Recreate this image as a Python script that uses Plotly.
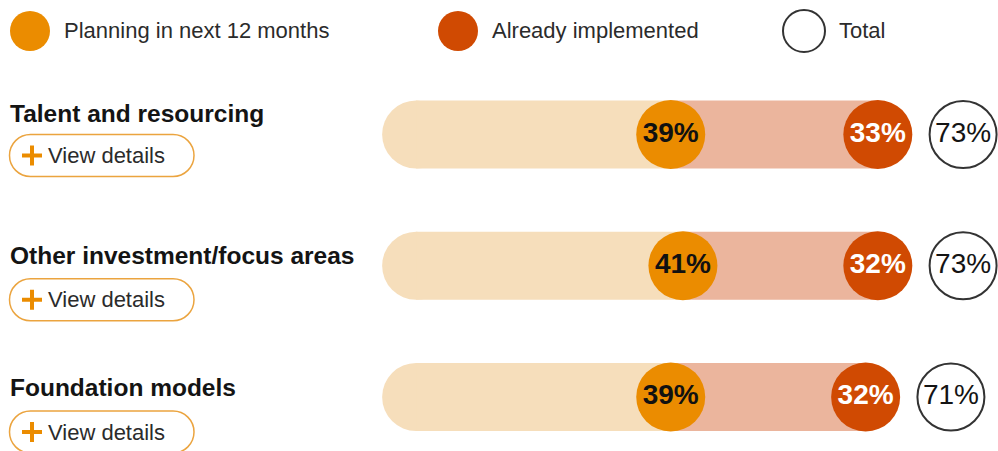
import plotly.graph_objects as go

# ---- data ----
categories = ["Talent and resourcing", "Other investment/focus areas", "Foundation models"]
planning = [39, 41, 39]
implemented = [33, 32, 32]
total = [73, 73, 71]
legend_labels = ["Planning in next 12 months", "Already implemented", "Total"]
button_label = "View details"

# ---- styles / layout constants ----
W, H = 998, 451
FONT = "Liberation Sans, Arial, Helvetica, sans-serif"
C_PLAN = "#EB8C00"
C_IMPL = "#D04A02"
C_LIGHT = "#F6DEBB"
C_MID = "#EBB59D"
C_TXT = "#141414"
C_BTN = "#EBA43F"
DIAM = 69
BAR_H = 68
BAR_CAP_X = -2.8      # axis units: centre of the rounded left end of the track
TOTAL_GAP = 14        # axis units between bar end and the total circle
X_RANGE = [-71.12, 92.73]
Y_RANGE = [2.4114, -1.0248]
LABEL_SHIFT = [21.5, 10, 10]     # px above row centre
BUTTON_SHIFT = [21, 34, 35]      # px below row centre

rows = list(range(len(categories)))
fig = go.Figure()

shapes = []
annotations = []

# tracks
for i in rows:
    shapes.append(dict(type="circle", xref="x", yref="y", xsizemode="pixel", ysizemode="pixel",
                       xanchor=BAR_CAP_X, yanchor=i, x0=-BAR_H / 2, x1=BAR_H / 2,
                       y0=-BAR_H / 2, y1=BAR_H / 2, fillcolor=C_LIGHT, line_width=0, layer="below"))
    shapes.append(dict(type="rect", xref="x", yref="y", ysizemode="pixel", yanchor=i,
                       x0=BAR_CAP_X, x1=planning[i], y0=-BAR_H / 2, y1=BAR_H / 2,
                       fillcolor=C_LIGHT, line_width=0, layer="below"))
    shapes.append(dict(type="rect", xref="x", yref="y", ysizemode="pixel", yanchor=i,
                       x0=planning[i], x1=total[i], y0=-BAR_H / 2, y1=BAR_H / 2,
                       fillcolor=C_MID, line_width=0, layer="below"))

# circles
fig.add_trace(go.Scatter(
    x=planning, y=rows, mode="markers+text",
    marker=dict(size=DIAM, color=C_PLAN, line_width=0),
    text=[f"{v}%" for v in planning], textposition="middle center",
    textfont=dict(family=FONT, size=28, color="#111111", weight=700),
    hoverinfo="skip", showlegend=False, cliponaxis=False))
fig.add_trace(go.Scatter(
    x=total, y=rows, mode="markers+text",
    marker=dict(size=DIAM, color=C_IMPL, line_width=0),
    text=[f"{v}%" for v in implemented], textposition="middle center",
    textfont=dict(family=FONT, size=28, color="#ffffff", weight=700),
    hoverinfo="skip", showlegend=False, cliponaxis=False))
fig.add_trace(go.Scatter(
    x=[t + TOTAL_GAP for t in total], y=rows, mode="markers+text",
    marker=dict(size=DIAM - 2, color="#ffffff", line=dict(width=2, color="#333333")),
    text=[f"{v}%" for v in total], textposition="middle center",
    textfont=dict(family=FONT, size=28, color=C_TXT),
    hoverinfo="skip", showlegend=False, cliponaxis=False))


def pill(L, R, c, r):
    k = 0.5523 * r
    t, b = c + r, c - r
    return (f"M{L + r},{t} L{R - r},{t} C{R - r + k},{t} {R},{c + k} {R},{c} "
            f"C{R},{c - k} {R - r + k},{b} {R - r},{b} L{L + r},{b} "
            f"C{L + r - k},{b} {L},{c - k} {L},{c} C{L},{c + k} {L + r - k},{t} {L + r},{t} Z")


# row labels and buttons
for i in rows:
    annotations.append(dict(xref="paper", yref="y", x=8 / W, y=i, yshift=LABEL_SHIFT[i],
                            xanchor="left", yanchor="middle", showarrow=False,
                            text=categories[i],
                            font=dict(family=FONT, size=24.5, color=C_TXT, weight=700)))
    c = -BUTTON_SHIFT[i]
    shapes.append(dict(type="path", xref="paper", yref="y", xsizemode="pixel", ysizemode="pixel",
                       xanchor=0, yanchor=i, path=pill(9.5, 194, c, 21),
                       line=dict(color=C_BTN, width=1.5), fillcolor="rgba(0,0,0,0)"))
    shapes.append(dict(type="line", xref="paper", yref="y", xsizemode="pixel", ysizemode="pixel",
                       xanchor=0, yanchor=i, x0=22, x1=42, y0=c, y1=c,
                       line=dict(color=C_PLAN, width=4)))
    shapes.append(dict(type="line", xref="paper", yref="y", xsizemode="pixel", ysizemode="pixel",
                       xanchor=0, yanchor=i, x0=32, x1=32, y0=c - 10, y1=c + 10,
                       line=dict(color=C_PLAN, width=4)))
    annotations.append(dict(xref="paper", yref="y", x=46 / W, y=i, yshift=-BUTTON_SHIFT[i],
                            xanchor="left", yanchor="middle", showarrow=False,
                            text=button_label,
                            font=dict(family=FONT, size=22, color="#2b2b2b")))

# legend
leg = [(30, 40, C_PLAN, None, 62), (458, 40, C_IMPL, None, 490), (804, 42, "#ffffff", "#333333", 837)]
ly = 31
for (cx, d, fill, outline, tx), lab in zip(leg, legend_labels):
    shapes.append(dict(type="circle", xref="paper", yref="paper",
                       x0=(cx - d / 2) / W, x1=(cx + d / 2) / W,
                       y0=1 - (ly + d / 2) / H, y1=1 - (ly - d / 2) / H,
                       fillcolor=fill,
                       line=dict(width=2 if outline else 0, color=outline or fill)))
    annotations.append(dict(xref="paper", yref="paper", x=tx / W, y=1 - 30 / H,
                            xanchor="left", yanchor="middle", showarrow=False, text=lab,
                            font=dict(family=FONT, size=22, color="#2b2b2b")))

fig.update_layout(
    width=W, height=H, margin=dict(l=0, r=0, t=0, b=0),
    paper_bgcolor="#ffffff", plot_bgcolor="#ffffff",
    xaxis=dict(range=X_RANGE, visible=False, fixedrange=True),
    yaxis=dict(range=Y_RANGE, visible=False, fixedrange=True),
    shapes=shapes, annotations=annotations, showlegend=False,
)

fig.write_html("out.html", config={"displayModeBar": False})
